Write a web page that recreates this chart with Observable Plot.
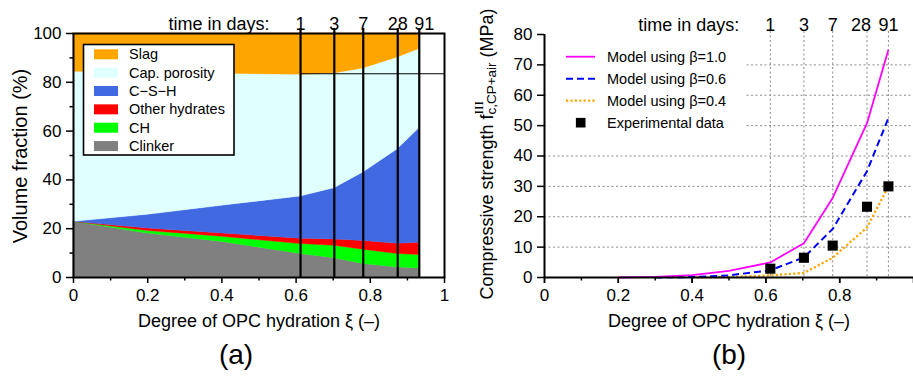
<!DOCTYPE html>
<html>
<head>
<meta charset="utf-8">
<script src="https://cdn.jsdelivr.net/npm/d3@7"></script>
<script src="https://cdn.jsdelivr.net/npm/@observablehq/plot@0.6"></script>
<style>
  body { margin: 0; background: #fff; }
  #fig { display: flex; width: 913px; height: 378px; overflow: hidden; }
  #fig svg { overflow: visible; flex: none; }
</style>
</head>
<body>
<div id="fig"></div>
<script>
const FONT = '"Liberation Sans", Arial, Helvetica, sans-serif';
const SERIF = '"Liberation Serif", "Times New Roman", serif';

// ---- (a) phase assemblage vs. degree of OPC hydration ----
const xiGrid = [0, 0.2, 0.4, 0.612, 0.703, 0.781, 0.874, 0.932];
// volume fractions in %, one value per entry of xiGrid
const clinker       = [22.8, 18.0, 14.6,  9.6,  7.9,  5.5,  4.1,  3.7];
const ch            = [ 0.0,  1.1,  2.1,  4.1,  5.1,  5.9,  5.5,  5.5];
const otherHydrates = [ 0.0,  1.0,  1.3,  2.2,  2.6,  3.6,  4.2,  5.0];
const csh           = [ 0.0,  5.6, 11.4, 17.3, 21.0, 28.0, 38.8, 47.0];
const capPorosity   = [61.5, 58.2, 54.1, 49.9, 47.0, 42.7, 37.6, 32.4];
const slag          = [15.7, 16.1, 16.5, 16.9, 16.4, 14.3,  9.8,  6.4];

// stacking order, bottom to top
const components = ["Clinker", "CH", "Other hydrates", "C\u2212S\u2212H", "Cap. porosity", "Slag"];
const componentColors = ["#808080", "#00ff00", "#ff0000", "#4169e1", "#e0ffff", "#ffa500"];

// test ages and the hydration degree reached at each
const dayLabels = ["1", "3", "7", "28", "91"];
const dayXi = [0.612, 0.703, 0.781, 0.874, 0.932];
const porosityLevel = 83.5;

// ---- (b) compressive strength ----
const modelXi10 = [0.2, 0.3, 0.4, 0.5, 0.612, 0.703, 0.781, 0.874, 0.932];
const modelBeta10 = [0, 0.2, 0.8, 2.2, 4.95, 11.3, 26.2, 50.8, 75.0];
const modelXi06 = [0.3, 0.4, 0.5, 0.612, 0.703, 0.781, 0.874, 0.932];
const modelBeta06 = [0, 0.15, 0.7, 2.4, 6.6, 16.0, 35.0, 52.5];
const modelXi04 = [0.4, 0.5, 0.612, 0.703, 0.781, 0.874, 0.932];
const modelBeta04 = [0, 0.15, 0.7, 1.5, 6.5, 16.5, 30.0];
const expXi = [0.612, 0.703, 0.781, 0.874, 0.932];
const expStrength = [2.9, 6.5, 10.5, 23.3, 30.0];

const seriesNames = ["Model using \u03b2=1.0", "Model using \u03b2=0.6", "Model using \u03b2=0.4", "Experimental data"];
const seriesColors = ["#ff00ff", "#0000ff", "#ffa500", "#000000"];
const seriesDash = [null, "7,4", "2.2,2.2", null];
const seriesWidth = [1.8, 2, 2.3, null];

// axis ticks
const xMajor = [0, 0.2, 0.4, 0.6, 0.8, 1];
const xMajorLabelledB = [0, 0.2, 0.4, 0.6, 0.8];
const xMinor = [0.1, 0.3, 0.5, 0.7, 0.9];
const yMajorA = [0, 20, 40, 60, 80, 100];
const yMinorA = [10, 30, 50, 70, 90];
const yMajorB = [0, 10, 20, 30, 40, 50, 60, 70, 80];
const yGridB = [10, 20, 30, 40, 50, 60, 70];

const xLabel = "Degree of OPC hydration \u03be (\u2013)";

const volumeRows = [];
const volumeSeries = [clinker, ch, otherHydrates, csh, capPorosity, slag];
components.forEach((c, k) =>
  xiGrid.forEach((xi, i) => volumeRows.push({xi, component: c, value: volumeSeries[k][i]}))
);

const modelXis = [modelXi10, modelXi06, modelXi04];
const modelVals = [modelBeta10, modelBeta06, modelBeta04];
const modelRows = modelXis.map((xs, k) => xs.map((xi, i) => ({xi, f: modelVals[k][i]})));
const expRows = expXi.map((xi, i) => ({xi, f: expStrength[i]}));

const baseStyle = {fontFamily: FONT, fontSize: "17px", color: "black", background: "white"};

function dayText(nudgeIndex, nudge) {
  return [
    Plot.text(dayXi, {x: d => d, text: (d, i) => dayLabels[i], filter: (d, i) => i !== nudgeIndex,
      frameAnchor: "top", dy: -16, fontSize: 18}),
    Plot.text(dayXi, {x: d => d, text: (d, i) => dayLabels[i], filter: (d, i) => i === nudgeIndex,
      frameAnchor: "top", dy: -16, dx: nudge, fontSize: 18}),
    Plot.text([dayXi[0]], {x: d => d, text: () => "time in days:", frameAnchor: "top",
      textAnchor: "end", dx: -31, dy: -16, fontSize: 18})
  ];
}

// ---------------- panel (a) ----------------
const left = Plot.plot({
  width: 460, height: 378,
  marginLeft: 73, marginRight: 16, marginTop: 33, marginBottom: 101,
  style: baseStyle,
  x: {domain: [0, 1], axis: null},
  y: {domain: [0, 100], axis: null},
  color: {domain: components, range: componentColors},
  marks: [
    Plot.areaY(volumeRows, {x: "xi", y: "value", fill: "component", stroke: "component",
      strokeWidth: 0.4, order: components}),
    Plot.ruleY([porosityLevel], {x1: dayXi[0], x2: 1, stroke: "black", strokeWidth: 1}),
    // full-height markers at the test ages, poking slightly above the frame
    Plot.ruleX(dayXi, {stroke: "black", strokeWidth: 2.2, insetTop: -5}),
    Plot.frame({stroke: "black", strokeWidth: 2}),
    Plot.axisX(xMinor, {tickSize: 3.5, tickFormat: () => "", strokeWidth: 1.5, label: null}),
    Plot.axisX(xMajor, {tickSize: 6, tickPadding: 5, tickFormat: d => String(d), strokeWidth: 1.5,
      fontSize: 17, label: null}),
    Plot.axisY(yMinorA, {tickSize: 3.5, tickFormat: () => "", strokeWidth: 1.5, label: null}),
    Plot.axisY(yMajorA, {tickSize: 7, tickPadding: 5, tickFormat: d => String(d), strokeWidth: 1.5,
      fontSize: 17, label: null}),
    Plot.text([xLabel], {frameAnchor: "bottom", dy: 49, fontSize: 18}),
    Plot.text(["(a)"], {frameAnchor: "bottom", dy: 86, dx: -23, fontSize: 28}),
    ...dayText(4, 5)
  ]
});

// y-axis title of panel (a)
d3.select(left).append("text")
  .attr("transform", "translate(27,156) rotate(-90)")
  .attr("text-anchor", "middle")
  .attr("font-family", FONT).attr("font-size", 20)
  .text("Volume fraction (%)");

// legend of panel (a), top entry first
{
  const g = d3.select(left).append("g").attr("font-family", FONT).attr("font-size", 14.5)
    .attr("text-anchor", "start");
  g.append("rect").attr("x", 83.5).attr("y", 44.5).attr("width", 150.5).attr("height", 110.5)
    .attr("fill", "white").attr("stroke", "black").attr("stroke-width", 1.6);
  const entries = components.map((c, i) => ({c, color: componentColors[i]})).reverse();
  entries.forEach((e, i) => {
    const cy = 54.3 + i * 18.35;
    g.append("rect").attr("x", 94).attr("y", cy - 5).attr("width", 24).attr("height", 10).attr("fill", e.color);
    g.append("text").attr("x", 129).attr("y", cy).attr("dy", "0.35em").text(e.c);
  });
}

// ---------------- panel (b) ----------------
const right = Plot.plot({
  width: 453, height: 378,
  marginLeft: 84, marginRight: 0, marginTop: 34, marginBottom: 101,
  style: baseStyle,
  x: {domain: [0, 1], axis: null},
  y: {domain: [0, 80], axis: null},
  marks: [
    Plot.ruleY(yGridB, {stroke: "#8a8a8a", strokeWidth: 1, strokeDasharray: "2,2.5"}),
    Plot.ruleX(dayXi, {stroke: "#8a8a8a", strokeWidth: 1, strokeDasharray: "2,2.5", insetTop: -3}),
    ...[2, 1, 0].map(k => Plot.line(modelRows[k], {x: "xi", y: "f", stroke: seriesColors[k],
      strokeWidth: seriesWidth[k], strokeDasharray: seriesDash[k], strokeLinecap: "butt"})),
    Plot.dot(expRows, {x: "xi", y: "f", symbol: "square", r: 5.7, fill: "black", stroke: null}),
    Plot.ruleY([0], {stroke: "black", strokeWidth: 2}),
    Plot.ruleX([0], {stroke: "black", strokeWidth: 2}),
    Plot.axisX(xMinor, {tickSize: 3.5, tickFormat: () => "", strokeWidth: 1.5, label: null}),
    Plot.axisX(xMajor, {tickSize: 6, tickFormat: () => "", strokeWidth: 1.5, label: null}),
    Plot.axisX(xMajorLabelledB, {tickSize: 6, tickPadding: 5, tickFormat: d => String(d), strokeWidth: 1.5,
      fontSize: 17, label: null}),
    Plot.axisY(yMajorB, {tickSize: 7, tickPadding: 5, tickFormat: d => String(d), strokeWidth: 1.5,
      fontSize: 17, label: null}),
    Plot.text([xLabel], {frameAnchor: "bottom", dy: 49, fontSize: 18}),
    Plot.text(["(b)"], {frameAnchor: "bottom", dy: 86, fontSize: 28}),
    ...dayText(3, -6)
  ]
});

// legend of panel (b)
{
  const g = d3.select(right).append("g").attr("font-family", FONT).attr("font-size", 14.5)
    .attr("text-anchor", "start");
  g.append("rect").attr("x", 86).attr("y", 35).attr("width", 199).attr("height", 102).attr("fill", "white");
  seriesNames.forEach((name, i) => {
    const cy = 56.7 + i * 22;
    if (i < 3) {
      g.append("line").attr("x1", 106).attr("x2", 135).attr("y1", cy).attr("y2", cy)
        .attr("stroke", seriesColors[i]).attr("stroke-width", seriesWidth[i])
        .attr("stroke-dasharray", seriesDash[i]);
    } else {
      g.append("rect").attr("x", 120.7 - 4.8).attr("y", cy - 4.8).attr("width", 9.6).attr("height", 9.6)
        .attr("fill", "black");
    }
    g.append("text").attr("x", 147).attr("y", cy).attr("dy", "0.35em").text(name);
  });
}

// y-axis title of panel (b) with super- and subscript
{
  const t = d3.select(right).append("text")
    .attr("transform", "translate(33,154) rotate(-90)")
    .attr("text-anchor", "middle")
    .attr("font-family", FONT).attr("font-size", 18);
  t.append("tspan").text("Compressive strength f");
  t.append("tspan").attr("font-family", SERIF).attr("font-size", 13.5).attr("dy", -10).text("III");
  t.append("tspan").attr("font-size", 13.5).attr("dx", -13.5).attr("dy", 13).text("c,CP+air");
  t.append("tspan").attr("dy", -3).text(" (MPa)");
}

const fig = document.getElementById("fig");
fig.append(left, right);
</script>
</body>
</html>
